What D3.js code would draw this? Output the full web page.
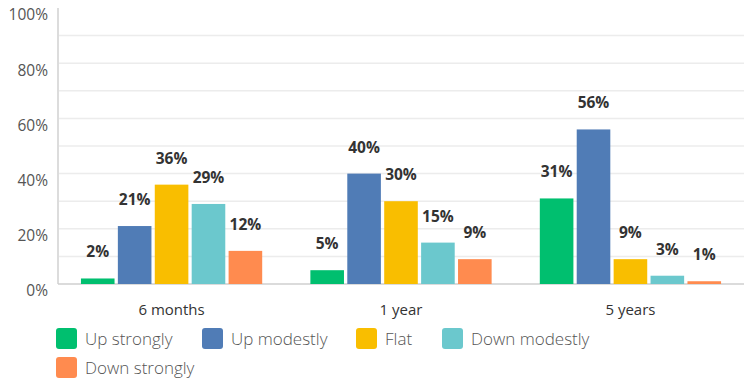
<!DOCTYPE html>
<html><head><meta charset="utf-8">
<script src="https://cdn.jsdelivr.net/npm/d3@7"></script>
<style>body{margin:0;background:#fff;}svg{display:block;font-family:"Open Sans",sans-serif;}</style>
</head><body><svg id="c" width="755" height="387"></svg>
<script>
const categories = ["6 months", "1 year", "5 years"];
const seriesNames = ["Up strongly", "Up modestly", "Flat", "Down modestly", "Down strongly"];
const seriesColors = ["#00BF6F", "#507CB6", "#F9BE00", "#6BC8CD", "#FF8B4F"];
const upStrongly = [2, 5, 31];
const upModestly = [21, 40, 56];
const flat = [36, 30, 9];
const downModestly = [29, 15, 3];
const downStrongly = [12, 9, 1];
const yTicks = [0, 20, 40, 60, 80, 100];
const gridTicks = [10, 20, 30, 40, 50, 60, 70, 80, 90];

(function () {
const seriesValues = [upStrongly, upModestly, flat, downModestly, downStrongly];
const svg = d3.select("#c");
const mLeft = 58, mRight = 744, mTop = 8, mBottom = 284;

const x0 = d3.scaleBand().domain(categories).range([mLeft, mRight]).paddingInner(0.21).paddingOuter(0.1);
const x1 = d3.scaleBand().domain(seriesNames).range([0, x0.bandwidth()]).paddingInner(0.09);
const y = d3.scaleLinear().domain([0, 100]).range([mBottom, mTop]);

// gridlines
svg.append("g").selectAll("line").data(gridTicks).join("line")
  .attr("x1", mLeft).attr("x2", mRight)
  .attr("y1", d => y(d)).attr("y2", d => y(d))
  .attr("stroke", "#ececec").attr("stroke-width", 1.5);

// y axis
const yAxis = d3.axisLeft(y).tickValues(yTicks).tickFormat(d => d + "%").tickSize(0).tickPadding(10);
const ya = svg.append("g").attr("transform", `translate(${mLeft},0)`).call(yAxis);
ya.select(".domain").remove();
ya.selectAll("text").attr("font-size", 15.5).attr("fill", "#555").attr("dy", "0.32em")
  .attr("transform", "translate(0,7)").attr("font-family", "Open Sans");
svg.append("line").attr("x1", mLeft).attr("x2", mLeft).attr("y1", mTop).attr("y2", mBottom)
  .attr("stroke", "#dcdcdc").attr("stroke-width", 2);

// x axis
const xAxis = d3.axisBottom(x0).tickSize(0).tickPadding(20);
const xa = svg.append("g").attr("transform", `translate(0,${mBottom})`).call(xAxis);
xa.select(".domain").attr("stroke", "#cfcfcf").attr("stroke-width", 1.5)
  .attr("d", `M${mLeft},0H${mRight}`);
xa.selectAll("text").attr("font-size", 15).attr("fill", "#333").attr("font-family", "Open Sans");

// bars
const groups = svg.append("g").selectAll("g").data(categories).join("g")
  .attr("transform", d => `translate(${x0(d)},0)`);
groups.each(function(cat, ci) {
  const g = d3.select(this);
  seriesNames.forEach((s, si) => {
    const v = seriesValues[si][ci];
    g.append("rect").attr("x", x1(s)).attr("width", x1.bandwidth())
      .attr("y", y(v)).attr("height", mBottom - y(v)).attr("fill", seriesColors[si]);
    g.append("text").attr("x", x1(s) + x1.bandwidth() / 2).attr("y", y(v) - 21)
      .attr("text-anchor", "middle").attr("font-size", 15.5).attr("font-weight", "bold")
      .attr("fill", "#333").text(v + "%");
  });
});

// legend
const legendPos = [[56, 328], [202, 328], [356, 328], [442, 328], [56, 357]];
const lg = svg.append("g").selectAll("g").data(seriesNames).join("g")
  .attr("transform", (d, i) => `translate(${legendPos[i][0]},${legendPos[i][1]})`);
lg.append("rect").attr("width", 21).attr("height", 21).attr("rx", 3)
  .attr("fill", (d, i) => seriesColors[i]);
lg.append("text").attr("x", 29).attr("y", 11).attr("dy", "0.35em")
  .attr("font-size", 17).attr("fill", "#555").attr("font-weight", 300).text(d => d);
})();
</script>
</body></html>
